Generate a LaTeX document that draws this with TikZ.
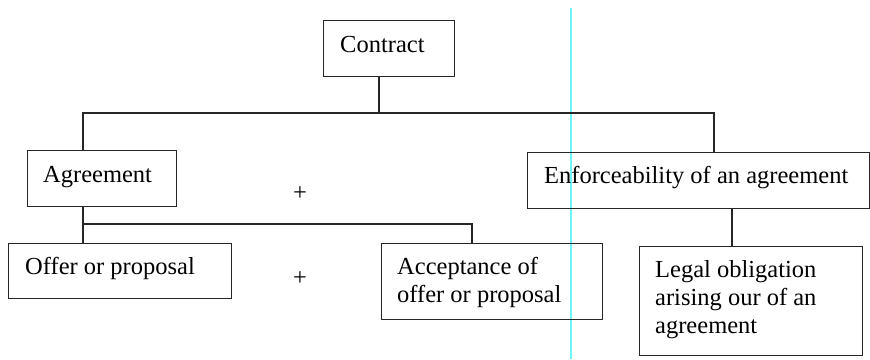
\documentclass[tikz,border=0pt]{standalone}
\usepackage{fontspec}
\setmainfont{Liberation Serif}
\begin{document}
\begin{tikzpicture}[x=1pt,y=-1pt,
  box/.style={draw=black!85,line width=1.1pt,rectangle,inner sep=0pt,anchor=north west},
  label/.style={anchor=base west,inner sep=0pt,align=left,
    font=\fontsize{24.5}{28}\selectfont},
  link/.style={draw=black!85,line width=1.1pt},
  plus/.style={inner sep=0pt,font=\fontsize{24.5}{28}\selectfont}]
\useasboundingbox (0,0) rectangle (870,359);

% guide line
\draw[color={rgb,255:red,110;green,245;blue,250},line width=1.2pt] (571,8) -- (571,359);

% boxes
\node[box,minimum width=131pt,minimum height=56pt] (contract) at (323,20) {};
\node[box,minimum width=149pt,minimum height=56pt] (agreement) at (27,150) {};
\node[box,minimum width=342pt,minimum height=56pt] (enforce) at (527,152) {};
\node[box,minimum width=223pt,minimum height=55pt] (offer) at (8,243) {};
\node[box,minimum width=221pt,minimum height=76pt] (accept) at (381,243) {};
\node[box,minimum width=223pt,minimum height=109pt] (legal) at (639,246) {};

% texts (base anchor of a multi-line node sits on its last line)
\node[label] (tcontract) at ([shift={(17,32)}]contract.north west) {Contract};
\node[label] (tagreement) at ([shift={(16,32)}]agreement.north west) {Agreement};
\node[label] (tenforce) at ([shift={(17,31)}]enforce.north west) {Enforceability of an agreement};
\node[label] (toffer) at ([shift={(17,31)}]offer.north west) {Offer or proposal};
\node[label] (taccept) at ([shift={(16,59)}]accept.north west) {Acceptance of\\offer or proposal};
\node[label] (tlegal) at ([shift={(16,87)}]legal.north west) {Legal obligation\\arising our of an\\agreement};

\node[plus] (plusA) at (300,194) {+};
\node[plus] (plusB) at (300,279) {+};

% connector junctions
\coordinate (cdrop) at (379,113);
\coordinate (busL) at (83,113);
\coordinate (busR) at (714,113);
\coordinate (subL) at (83,224);
\coordinate (subR) at (472,224);
\coordinate (edrop) at (732,0);

% connectors
\draw[link] (contract.south -| cdrop) -- (cdrop);
\draw[link] (busL |- agreement.north) -- (busL) -- (busR) -- (busR |- enforce.north);
\draw[link] (subL |- agreement.south) -- (subL |- offer.north);
\draw[link] (subL) -- (subR) -- (subR |- accept.north);
\draw[link] (edrop |- enforce.south) -- (edrop |- legal.north);
\end{tikzpicture}
\end{document}
